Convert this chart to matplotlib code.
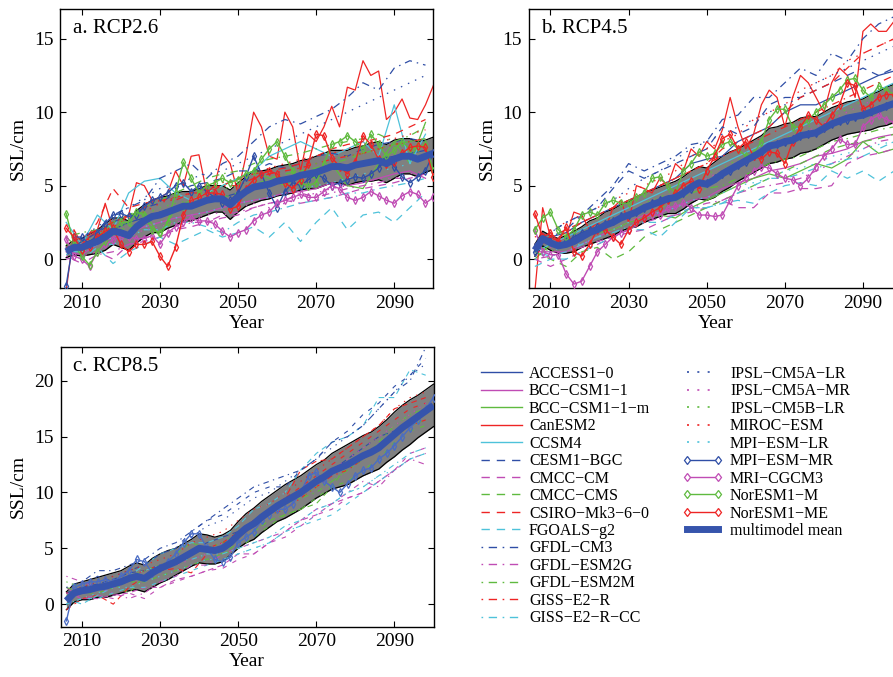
import numpy as np
import matplotlib
matplotlib.use('Agg')
import matplotlib.pyplot as plt
from matplotlib.lines import Line2D

plt.rcParams['font.family'] = ['Liberation Serif', 'DejaVu Serif']

# ---------------- data ----------------
years2 = np.arange(2006, 2101, 2)   # 48 points
years4 = np.arange(2006, 2099, 4)   # 24 points

model_names = ['ACCESS1\u22120', 'BCC\u2212CSM1\u22121', 'BCC\u2212CSM1\u22121\u2212m', 'CanESM2', 'CCSM4',
               'CESM1\u2212BGC', 'CMCC\u2212CM', 'CMCC\u2212CMS', 'CSIRO\u2212Mk3\u22126\u22120', 'FGOALS\u2212g2',
               'GFDL\u2212CM3', 'GFDL\u2212ESM2G', 'GFDL\u2212ESM2M', 'GISS\u2212E2\u2212R', 'GISS\u2212E2\u2212R\u2212CC',
               'IPSL\u2212CM5A\u2212LR', 'IPSL\u2212CM5A\u2212MR', 'IPSL\u2212CM5B\u2212LR', 'MIROC\u2212ESM', 'MPI\u2212ESM\u2212LR',
               'MPI\u2212ESM\u2212MR', 'MRI\u2212CGCM3', 'NorESM1\u2212M', 'NorESM1\u2212ME']
mean_label = 'multimodel mean'
panel_titles = ['a. RCP2.6', 'b. RCP4.5', 'c. RCP8.5']

# ---- RCP2.6 ----
a_mean = [0.5, 0.8, 0.8, 1.0, 1.2, 1.5, 1.9, 1.8,
          1.6, 2.2, 2.6, 2.9, 3.0, 3.2, 3.4, 3.6,
          3.6, 3.8, 4.0, 4.1, 4.1, 3.7, 4.2, 4.6,
          4.9, 5.0, 5.1, 5.3, 5.4, 5.5, 5.7, 5.8,
          5.9, 6.1, 6.3, 6.3, 6.2, 6.4, 6.5, 6.6,
          6.7, 6.5, 6.8, 7.0, 7.0, 6.8, 7.0, 7.2]
a_std = [0.4, 0.5, 0.6, 0.7, 0.8, 0.9, 0.9, 1.0,
         1.0, 1.1, 1.1, 1.1, 1.2, 1.1, 1.1, 1.0,
         1.0, 1.0, 1.0, 0.9, 0.9, 1.0, 1.0, 1.0,
         1.1, 1.0, 1.0, 1.0, 1.0, 1.0, 1.0, 1.0,
         1.1, 1.1, 1.1, 1.1, 1.2, 1.2, 1.2, 1.3,
         1.3, 1.3, 1.3, 1.2, 1.2, 1.2, 1.1, 1.1]
a_MPI_ESM_MR = [-1.8, 1.5, 1.5, 1.0, 1.8, 2.4, 3.0, 3.1,
                2.9, 3.0, 3.6, 4.0, 4.2, 4.5, 5.0, 5.2,
                4.6, 5.0, 4.6, 4.2, 3.8, 4.0, 4.5, 5.6,
                7.0, 5.8, 4.5, 3.5, 4.6, 5.2, 5.0, 5.4,
                5.8, 5.5, 5.0, 5.2, 5.4, 5.6, 5.5, 5.8,
                6.2, 6.8, 6.3, 5.6, 5.2, 5.6, 6.0, 7.2]
a_MRI_CGCM3 = [1.4, 0.2, 0.0, -0.5, 0.5, 1.0, 1.3, 1.5,
               1.5, 1.4, 1.4, 1.6, 1.0, 1.8, 2.2, 2.5,
               2.8, 2.6, 2.6, 2.4, 1.9, 1.5, 1.8, 2.0,
               2.6, 3.0, 3.2, 3.8, 4.0, 4.2, 4.4, 4.2,
               4.2, 4.6, 5.0, 4.8, 4.2, 4.0, 4.2, 4.6,
               4.3, 4.0, 3.8, 4.3, 4.6, 4.4, 3.8, 4.2]
a_NorESM1_M = [3.1, 1.0, 0.2, -0.4, 0.5, 1.2, 2.0, 2.5,
               2.5, 3.2, 3.0, 2.0, 1.8, 2.5, 4.5, 6.6,
               5.5, 4.5, 5.0, 5.2, 5.5, 5.2, 5.4, 5.8,
               6.0, 6.8, 7.5, 8.0, 7.0, 6.0, 5.2, 5.0,
               5.2, 6.5, 7.8, 8.0, 8.4, 8.0, 7.5, 8.5,
               7.8, 7.0, 7.4, 8.0, 7.5, 7.6, 7.8, 6.0]
a_NorESM1_ME = [2.1, 1.5, 0.6, 0.8, 1.5, 1.9, 2.1, 1.0,
                0.5, 1.0, 1.0, 1.2, 0.2, -0.5, 0.8, 3.0,
                4.0, 4.2, 4.5, 4.5, 4.4, 3.4, 3.6, 4.8,
                5.4, 5.8, 6.0, 5.8, 5.2, 4.8, 5.4, 6.5,
                8.5, 8.4, 6.9, 6.3, 5.8, 6.6, 8.4, 7.8,
                6.8, 6.5, 6.6, 7.2, 7.6, 7.7, 7.6, 5.6]
a_CanESM2 = [-2.2, 2.0, 1.0, 1.5, 2.0, 3.8, 2.0, 2.5,
             3.0, 5.2, 5.0, 4.0, 4.2, 4.5, 6.0, 5.0,
             7.0, 7.1, 4.5, 5.0, 7.2, 6.5, 4.5, 7.0,
             10.0, 9.0, 7.0, 6.8, 10.0, 9.0, 6.0, 8.5,
             8.0, 9.0, 10.4, 9.0, 11.7, 11.5, 13.5, 12.5,
             12.8, 9.5, 10.0, 10.9, 9.6, 9.5, 10.5, 11.8]
a_ACCESS1_0 = [0.8, 1.0, 1.5, 2.0, 2.5, 2.8, 3.2, 3.5, 3.8, 4.0, 4.2, 4.5, 4.8, 5.2, 5.5, 5.6, 6.0, 6.2, 6.4, 6.6, 6.8, 7.0, 7.2, 7.4]
a_BCC_CSM1_1 = [0.5, 0.3, 1.0, 1.5, 1.8, 2.2, 2.5, 2.8, 3.0, 3.2, 3.5, 3.8, 4.0, 4.2, 4.5, 4.6, 4.8, 5.2, 5.0, 5.2, 5.5, 5.8, 6.0, 5.5]
a_BCC_CSM1_1_m = [1.5, 0.5, 1.5, 2.5, 3.0, 3.2, 1.5, 3.5, 4.0, 4.5, 5.0, 5.5, 6.0, 5.5, 5.0, 5.8, 5.5, 6.5, 5.0, 4.8, 6.5, 8.0, 6.5, 9.3]
a_CCSM4 = [2.5, 1.0, 3.0, 2.0, 4.5, 5.3, 5.5, 4.5, 4.0, 4.5, 5.0, 5.5, 6.0, 7.0, 7.5, 8.0, 7.5, 7.0, 7.5, 8.0, 7.0, 10.5, 6.5, 8.5]
a_CESM1_BGC = [0.5, 1.2, 1.8, 2.5, 3.0, 3.5, 3.8, 4.5, 5.0, 5.2, 5.5, 6.0, 6.0, 6.5, 6.2, 6.5, 7.0, 7.2, 7.0, 7.5, 7.8, 8.0, 8.2, 8.0]
a_CMCC_CM = [0.0, 0.2, 0.5, 0.0, 1.0, 1.2, 1.5, 2.0, 2.2, 2.5, 2.8, 3.0, 3.5, 3.8, 4.0, 3.8, 4.0, 4.2, 4.5, 4.8, 5.0, 5.2, 5.5, 5.8]
a_CMCC_CMS = [1.0, 0.8, 1.2, 1.8, 2.2, 2.5, 3.0, 3.2, 3.5, 4.0, 4.2, 4.5, 5.0, 5.5, 5.8, 6.0, 6.2, 6.5, 6.8, 7.2, 7.5, 7.8, 8.0, 8.2]
a_CSIRO = [0.5, 1.0, 2.5, 4.8, 3.5, 3.8, 4.0, 4.2, 4.5, 4.8, 5.0, 5.5, 5.8, 6.0, 6.2, 6.5, 7.0, 7.5, 7.8, 8.0, 8.2, 8.5, 9.0, 9.5]
a_FGOALS_g2 = [0.5, 0.0, 0.8, -0.3, 0.5, 1.0, 1.5, 1.0, 1.5, 2.0, 1.5, 1.8, 2.2, 1.5, 2.5, 1.2, 2.5, 3.5, 2.0, 3.0, 3.2, 2.5, 3.5, 4.5]
a_GFDL_CM3 = [0.5, 1.5, 2.0, 3.0, 3.5, 4.0, 5.5, 6.0, 6.5, 5.5, 6.5, 7.0, 8.0, 9.0, 9.5, 9.2, 9.7, 10.2, 11.0, 12.0, 11.5, 13.0, 13.5, 13.2]
a_GFDL_ESM2G = [0.2, -0.3, 0.3, 0.5, 1.0, 1.5, 1.5, 2.0, 2.5, 2.5, 3.0, 3.2, 3.5, 3.8, 4.0, 4.5, 4.2, 4.5, 4.8, 5.0, 5.2, 5.5, 5.5, 5.8]
a_GFDL_ESM2M = [1.5, 1.8, 2.0, 2.5, 3.0, 3.5, 4.0, 4.5, 5.0, 5.5, 5.8, 6.0, 6.5, 6.8, 7.0, 7.2, 7.5, 7.8, 8.0, 8.2, 8.5, 8.0, 8.4, 9.0]
a_GISS_E2_R = [1.0, 1.5, 2.0, 2.5, 3.0, 3.5, 4.0, 4.0, 4.5, 4.5, 5.0, 5.0, 5.5, 5.8, 6.0, 6.2, 6.5, 6.8, 7.0, 7.2, 7.5, 7.8, 8.0, 8.2]
a_GISS_E2_R_CC = [0.5, 0.5, 1.0, 1.0, 1.5, 2.0, 2.0, 2.5, 2.5, 2.2, 1.8, 2.5, 3.0, 3.2, 3.5, 3.8, 4.0, 4.2, 4.5, 4.5, 4.8, 5.0, 5.2, 5.5]
a_IPSL_CM5A_LR = [1.0, 1.5, 2.2, 3.0, 3.5, 4.2, 4.8, 5.0, 5.5, 5.8, 6.0, 6.5, 7.0, 7.5, 8.0, 8.5, 9.0, 9.5, 10.0, 10.5, 11.0, 11.5, 12.0, 12.5]
a_IPSL_CM5A_MR = [0.5, 0.8, 1.0, 1.2, 1.5, 2.0, 2.2, 2.5, 2.8, 3.0, 3.2, 3.5, 3.8, 3.5, 3.8, 4.2, 4.5, 4.8, 5.0, 5.2, 5.5, 5.5, 5.8, 6.0]
a_IPSL_CM5B_LR = [1.0, 1.2, 1.5, 2.0, 2.5, 3.0, 3.5, 3.8, 4.0, 4.5, 4.8, 5.0, 5.2, 5.5, 5.8, 6.0, 6.5, 6.8, 7.0, 7.2, 7.5, 7.8, 8.0, 8.2]
a_MIROC_ESM = [0.8, 1.0, 1.8, 2.2, 2.8, 3.2, 3.8, 4.2, 4.5, 4.8, 5.2, 5.5, 5.8, 6.2, 6.5, 6.8, 7.0, 7.2, 7.5, 7.8, 8.0, 8.2, 8.5, 8.8]
a_MPI_ESM_LR = [0.3, 0.5, 1.0, 1.5, 2.0, 2.2, 2.5, 2.8, 3.0, 3.2, 3.5, 3.8, 4.0, 4.2, 4.5, 4.8, 5.0, 5.2, 5.5, 5.8, 6.0, 6.2, 6.5, 6.8]

# ---- RCP4.5 ----
b_mean = [0.6, 1.4, 1.1, 0.9, 1.0, 1.2, 1.5, 1.8,
          2.0, 2.3, 2.5, 2.8, 3.0, 3.2, 3.5, 3.7,
          3.9, 4.1, 4.2, 4.5, 4.9, 5.2, 5.1, 5.4,
          5.8, 6.1, 6.4, 6.7, 7.0, 7.3, 7.7, 7.8,
          8.0, 8.1, 8.4, 8.5, 8.6, 8.9, 9.2, 9.4,
          9.6, 9.7, 9.8, 10.0, 10.2, 10.4, 10.6, 10.8]
b_std = [0.4, 0.5, 0.5, 0.5, 0.6, 0.7, 0.7, 0.8,
         0.8, 0.9, 0.9, 0.9, 0.9, 1.0, 1.0, 1.0,
         1.0, 1.0, 1.1, 1.1, 1.1, 1.1, 1.1, 1.2,
         1.2, 1.2, 1.1, 1.1, 1.1, 1.1, 1.2, 1.2,
         1.2, 1.2, 1.2, 1.2, 1.1, 1.1, 1.1, 1.1,
         1.1, 1.1, 1.1, 1.2, 1.2, 1.3, 1.3, 1.3]
b_MPI_ESM_MR = [0.5, 1.5, 1.2, 1.0, 1.2, 1.5, 1.8, 2.0,
                2.2, 2.4, 2.6, 2.9, 3.0, 3.2, 3.5, 3.8,
                4.0, 4.1, 4.3, 4.5, 4.8, 5.1, 5.2, 5.5,
                5.8, 6.0, 6.4, 6.6, 7.0, 7.2, 7.6, 7.8,
                8.0, 8.2, 8.4, 8.5, 8.6, 8.9, 9.2, 9.4,
                9.5, 9.7, 9.9, 10.0, 10.2, 10.4, 10.5, 10.8]
b_MRI_CGCM3 = [2.0, 0.5, 0.3, 0.3, -1.0, -1.7, -1.5, -0.5,
               0.5, 1.0, 1.5, 1.8, 2.0, 2.5, 2.8, 3.0,
               3.0, 3.5, 3.6, 3.8, 3.5, 3.0, 3.0, 2.9,
               3.0, 4.0, 5.0, 5.5, 6.0, 6.3, 6.2, 5.8,
               5.5, 5.4, 5.0, 5.5, 6.3, 7.0, 7.5, 8.2,
               7.8, 7.8, 9.0, 9.5, 9.8, 9.5, 9.3, 9.5]
b_NorESM1_M = [2.0, 2.8, 3.2, 2.0, 1.5, 2.0, 3.0, 3.2,
               3.0, 3.8, 4.0, 3.8, 3.8, 4.2, 4.5, 5.5,
               5.6, 5.0, 4.5, 6.0, 6.5, 7.3, 7.0, 7.2,
               7.8, 8.0, 7.5, 7.0, 7.2, 8.0, 9.5, 10.2,
               10.2, 9.0, 9.0, 9.5, 10.0, 10.5, 11.0, 11.5,
               12.2, 12.3, 11.5, 11.0, 11.8, 11.5, 11.2, 11.5]
b_NorESM1_ME = [3.1, 1.5, 1.8, 1.2, 2.2, 0.5, 0.2, 1.0,
                2.0, 2.0, 1.5, 1.0, 2.0, 2.5, 2.8, 3.2,
                3.5, 4.0, 4.5, 5.0, 5.3, 4.8, 6.0, 7.0,
                8.2, 8.5, 7.5, 8.0, 7.0, 6.8, 7.3, 7.2,
                6.5, 8.0, 9.0, 9.8, 9.5, 9.0, 9.8, 10.5,
                12.0, 11.8, 10.2, 10.5, 11.0, 11.2, 11.2, 11.0]
b_CanESM2 = [-2.2, 3.5, 1.5, 1.2, 1.5, 3.2, 3.0, 2.0,
             2.5, 2.0, 3.5, 4.0, 2.5, 5.0, 4.8, 4.5,
             5.5, 5.0, 6.5, 6.0, 7.5, 7.0, 8.0, 7.5,
             8.8, 11.0, 9.0, 7.5, 8.5, 10.5, 11.5, 11.0,
             9.0, 11.0, 12.5, 12.0, 11.0, 10.0, 12.0, 13.0,
             12.5, 11.0, 15.5, 16.0, 15.5, 15.5, 16.2, 16.2]
b_ACCESS1_0 = [1.0, 1.5, 1.8, 2.5, 3.0, 3.5, 4.0, 4.5, 5.0, 5.5, 6.5, 6.8, 7.0, 8.0, 8.5, 9.0, 10.0, 10.5, 10.5, 11.0, 11.5, 12.0, 12.5, 12.8]
b_BCC_CSM1_1 = [0.5, 0.5, 0.5, 1.0, 1.5, 2.0, 2.5, 3.0, 3.2, 3.5, 4.0, 4.2, 4.8, 5.2, 5.5, 6.0, 6.2, 6.5, 7.0, 7.2, 7.5, 8.0, 8.3, 8.5]
b_BCC_CSM1_1_m = [0.0, 1.0, 1.0, 1.5, 1.8, 2.0, 2.5, 2.8, 3.0, 2.8, 3.5, 4.0, 4.5, 5.0, 5.5, 5.8, 5.5, 6.0, 6.5, 6.2, 6.8, 8.0, 7.2, 7.5]
b_CCSM4 = [0.5, 1.0, 1.5, 2.0, 2.5, 3.0, 3.5, 4.0, 4.5, 5.0, 5.5, 6.0, 6.5, 7.0, 7.5, 8.0, 8.5, 9.0, 9.5, 10.0, 10.5, 11.0, 11.5, 12.0]
b_CESM1_BGC = [0.5, 1.5, 2.0, 3.0, 3.5, 4.8, 6.0, 5.5, 6.0, 6.5, 7.0, 7.5, 9.0, 8.5, 9.0, 10.5, 11.0, 11.0, 11.5, 12.0, 12.5, 13.0, 12.5, 13.0]
b_CMCC_CM = [0.0, -0.5, 0.0, 0.5, 1.0, 1.5, 1.8, 2.0, 2.5, 3.0, 3.2, 3.5, 4.0, 3.5, 3.5, 4.5, 4.5, 4.8, 4.8, 5.0, 6.5, 7.0, 7.2, 7.5]
b_CMCC_CMS = [0.5, 0.0, -0.5, 0.5, 0.8, 0.0, 0.5, 1.5, 2.0, 2.5, 3.0, 3.5, 4.0, 4.5, 5.0, 5.5, 6.0, 6.5, 7.0, 7.5, 7.8, 8.0, 8.2, 8.5]
b_CSIRO = [1.0, 1.5, 2.0, 2.5, 3.0, 3.5, 4.0, 4.5, 5.0, 5.5, 6.0, 6.5, 7.5, 8.0, 8.5, 9.0, 10.0, 11.0, 11.5, 12.0, 13.0, 14.0, 14.5, 15.0]
b_FGOALS_g2 = [-0.5, 0.0, 0.0, 0.5, 1.0, 1.5, 2.0, 2.0, 1.5, 2.5, 3.5, 3.5, 3.8, 4.0, 3.8, 4.5, 5.0, 5.2, 5.0, 6.0, 5.5, 6.0, 5.3, 6.0]
b_GFDL_CM3 = [1.0, 1.8, 2.5, 3.0, 4.0, 5.0, 6.5, 6.0, 6.5, 7.0, 7.8, 8.0, 9.5, 9.8, 11.0, 11.0, 12.0, 13.0, 12.5, 14.0, 13.5, 15.0, 16.0, 16.5]
b_GFDL_ESM2G = [0.0, 0.2, 0.5, 0.8, 1.2, 1.5, 2.0, 2.5, 2.8, 3.0, 3.5, 3.8, 4.0, 4.5, 4.8, 5.0, 5.2, 5.5, 6.0, 6.5, 7.0, 7.5, 8.0, 8.2]
b_GFDL_ESM2M = [1.0, 0.5, 1.0, 1.5, 2.0, 2.5, 2.0, 2.8, 3.5, 4.0, 4.5, 4.8, 5.0, 5.5, 6.0, 6.5, 6.8, 7.0, 7.5, 8.0, 8.2, 8.5, 8.8, 9.0]
b_GISS_E2_R = [1.0, 1.2, 1.8, 2.5, 3.0, 3.5, 4.0, 4.5, 5.0, 5.5, 6.0, 6.5, 7.0, 7.5, 8.0, 8.5, 9.0, 9.5, 10.0, 10.5, 11.0, 11.5, 12.0, 12.5]
b_GISS_E2_R_CC = [0.5, 0.2, 0.5, 1.0, 1.5, 1.8, 2.2, 2.5, 2.5, 3.0, 3.5, 3.5, 3.8, 4.5, 5.0, 5.5, 5.5, 5.8, 6.2, 6.5, 6.8, 7.0, 7.5, 8.0]
b_IPSL_CM5A_LR = [1.0, 1.8, 2.5, 3.0, 3.5, 4.0, 4.8, 5.5, 6.0, 6.8, 7.5, 8.0, 8.5, 9.0, 9.5, 10.0, 10.5, 11.0, 12.0, 12.5, 13.0, 13.5, 14.0, 14.5]
b_IPSL_CM5A_MR = [0.5, 0.8, 1.0, 1.5, 2.0, 2.5, 3.0, 3.5, 4.0, 4.5, 5.0, 5.5, 6.0, 6.5, 7.0, 7.5, 8.0, 8.5, 9.0, 9.5, 10.0, 10.5, 11.0, 11.5]
b_IPSL_CM5B_LR = [0.5, 1.0, 1.2, 1.8, 2.2, 2.8, 3.2, 3.8, 4.2, 4.8, 5.2, 5.8, 6.2, 6.8, 7.2, 7.8, 8.2, 8.8, 9.2, 9.8, 10.2, 10.8, 11.2, 11.8]
b_MIROC_ESM = [1.5, 2.0, 2.5, 3.0, 3.5, 4.0, 4.5, 5.0, 5.5, 6.0, 7.0, 7.5, 8.0, 8.5, 9.5, 10.0, 10.5, 11.5, 12.0, 12.5, 13.5, 14.0, 14.5, 15.0]
b_MPI_ESM_LR = [0.0, 0.5, 1.0, 1.0, 1.5, 2.0, 2.5, 2.8, 3.2, 3.5, 4.0, 4.2, 4.5, 5.0, 5.2, 5.5, 6.0, 6.2, 6.5, 7.0, 7.2, 7.5, 7.8, 8.0]

# ---- RCP8.5 ----
c_mean = [0.3, 1.0, 1.2, 1.3, 1.5, 1.6, 1.8, 2.0,
          2.3, 2.5, 2.3, 2.8, 3.2, 3.5, 3.8, 4.2,
          4.6, 5.0, 4.9, 4.8, 5.0, 5.5, 6.2, 6.8,
          7.2, 7.8, 8.3, 8.8, 9.2, 9.6, 10.0, 10.5,
          11.0, 11.4, 11.9, 12.2, 12.5, 12.9, 13.3, 13.6,
          14.0, 14.6, 15.2, 15.8, 16.3, 16.8, 17.3, 17.8]
c_std = [0.8, 0.8, 0.8, 0.9, 0.9, 1.0, 1.0, 1.0,
         1.1, 1.2, 1.2, 1.3, 1.3, 1.3, 1.2, 1.2,
         1.2, 1.3, 1.3, 1.2, 1.2, 1.1, 1.2, 1.3,
         1.4, 1.4, 1.4, 1.4, 1.5, 1.5, 1.5, 1.5,
         1.5, 1.5, 1.6, 1.7, 1.8, 1.8, 1.8, 1.8,
         1.9, 1.9, 2.0, 2.0, 2.0, 1.9, 1.9, 1.9]
c_MPI_ESM_MR = [-1.5, 1.5, 1.8, 2.0, 2.0, 2.2, 2.0, 2.5,
                3.0, 4.0, 3.8, 2.8, 3.2, 3.8, 4.5, 5.5,
                6.3, 6.3, 5.0, 4.0, 3.8, 4.2, 5.5, 6.0,
                6.5, 7.5, 8.0, 8.5, 8.5, 9.0, 10.0, 11.5,
                11.8, 11.0, 10.5, 10.0, 10.8, 11.5, 12.0, 12.2,
                13.0, 13.5, 14.2, 15.0, 15.8, 16.5, 17.5, 18.5]
c_ACCESS1_0 = [0.5, 1.5, 1.8, 2.2, 2.8, 3.0, 3.5, 4.0, 4.8, 5.5, 6.0, 6.5, 7.5, 8.2, 9.0, 10.0, 11.0, 12.0, 13.0, 14.0, 15.0, 15.5, 16.5, 17.5]
c_BCC_CSM1_1 = [1.5, 0.5, 0.5, 0.8, 1.0, 1.5, 1.5, 2.2, 2.5, 3.0, 3.5, 4.5, 4.5, 5.5, 6.5, 7.5, 8.0, 9.0, 9.5, 10.0, 11.0, 12.0, 13.0, 13.5]
c_BCC_CSM1_1_m = [1.5, 1.0, 1.5, 1.8, 1.0, 2.5, 3.0, 4.5, 5.5, 5.0, 4.5, 5.5, 6.5, 7.5, 8.0, 8.5, 9.0, 10.5, 12.5, 13.5, 14.0, 15.0, 16.0, 16.5]
c_CanESM2 = [-0.5, 0.5, 0.8, 0.0, 1.5, 2.5, 3.0, 3.2, 2.8, 4.5, 5.0, 6.0, 7.0, 8.5, 9.5, 12.0, 12.8, 13.0, 14.0, 15.0, 16.0, 17.5, 18.0, 18.5]
c_CCSM4 = [0.5, 0.0, 0.8, 1.5, 2.5, 3.5, 4.5, 5.0, 5.5, 5.5, 6.0, 7.0, 8.5, 9.0, 10.0, 12.0, 13.5, 14.5, 15.0, 16.0, 18.5, 18.5, 21.0, 20.5]
c_CESM1_BGC = [1.0, 1.5, 2.5, 2.0, 3.0, 3.5, 4.5, 5.0, 6.5, 7.5, 8.0, 9.0, 10.0, 10.5, 10.5, 12.0, 13.0, 14.5, 15.5, 17.0, 18.0, 19.5, 20.5, 22.0]
c_CMCC_CM = [1.0, 0.5, 0.8, 0.5, 1.0, 0.5, 1.5, 2.0, 2.5, 3.0, 3.2, 4.0, 4.5, 5.5, 6.0, 7.0, 8.0, 8.5, 9.5, 10.0, 11.0, 12.0, 13.5, 14.0]
c_CMCC_CMS = [0.8, 1.0, 1.0, 1.5, 2.0, 2.0, 2.5, 3.0, 3.5, 4.0, 4.5, 5.0, 6.0, 7.0, 8.0, 8.5, 9.5, 10.5, 11.0, 12.0, 13.0, 14.5, 15.5, 16.0]
c_CSIRO = [0.5, 1.0, 1.5, 2.0, 2.5, 3.0, 3.5, 4.0, 4.5, 5.0, 5.5, 6.5, 7.5, 8.5, 9.5, 10.5, 11.5, 12.5, 13.5, 14.5, 15.5, 16.5, 17.5, 18.0]
c_FGOALS_g2 = [0.0, 0.5, 0.5, 1.0, 1.5, 1.5, 2.0, 2.5, 3.0, 3.5, 4.0, 4.5, 5.0, 5.5, 6.5, 7.0, 7.5, 8.0, 9.0, 10.0, 11.0, 12.0, 13.0, 13.5]
c_GFDL_CM3 = [1.5, 2.0, 3.0, 3.0, 3.5, 4.0, 5.0, 5.5, 6.5, 7.5, 8.5, 9.5, 10.5, 11.0, 11.5, 12.0, 13.0, 14.5, 15.0, 16.0, 17.5, 19.0, 20.0, 23.0]
c_GFDL_ESM2G = [2.5, 2.0, 1.5, 1.0, 0.5, 1.0, 2.0, 2.5, 3.5, 3.5, 4.5, 5.0, 5.5, 6.0, 6.5, 7.5, 8.5, 9.0, 10.0, 11.0, 10.5, 12.0, 13.0, 12.5]
c_GFDL_ESM2M = [2.0, 1.5, 1.5, 2.0, 2.5, 3.0, 3.5, 4.0, 4.5, 5.0, 5.5, 6.0, 7.0, 8.0, 9.0, 9.5, 10.0, 11.0, 12.0, 13.0, 14.5, 16.0, 17.0, 17.5]
c_GISS_E2_R = [0.5, 1.0, 1.5, 2.0, 2.5, 3.0, 3.5, 4.0, 4.5, 5.0, 5.5, 6.0, 7.0, 8.0, 8.5, 9.5, 10.5, 11.5, 12.0, 13.0, 14.0, 15.0, 16.0, 16.5]
c_GISS_E2_R_CC = [0.5, 1.0, 1.5, 2.0, 2.5, 3.0, 3.5, 4.0, 4.0, 4.5, 4.5, 5.0, 5.5, 6.0, 7.0, 7.5, 8.5, 9.0, 10.0, 10.5, 11.5, 12.5, 13.5, 14.0]
c_IPSL_CM5A_LR = [1.0, 1.5, 2.0, 2.5, 3.0, 3.5, 4.5, 5.0, 6.0, 7.0, 7.5, 8.5, 9.5, 10.0, 11.0, 12.0, 13.0, 14.0, 15.0, 16.0, 17.5, 19.0, 20.5, 21.5]
c_IPSL_CM5A_MR = [0.5, 1.0, 1.2, 1.5, 2.0, 2.5, 3.0, 3.5, 4.0, 4.5, 5.5, 6.0, 7.0, 8.0, 9.0, 10.0, 11.0, 12.0, 13.0, 14.0, 15.0, 16.0, 17.0, 18.0]
c_IPSL_CM5B_LR = [0.5, 1.0, 1.5, 2.0, 2.5, 3.0, 3.5, 4.0, 4.5, 5.0, 5.5, 6.5, 7.0, 8.0, 8.5, 9.5, 10.5, 11.0, 12.0, 13.0, 14.0, 15.0, 16.0, 16.5]
c_MIROC_ESM = [1.0, 1.5, 2.0, 2.5, 3.0, 3.5, 4.0, 4.5, 5.5, 6.0, 6.5, 7.5, 8.5, 9.0, 10.0, 11.0, 12.0, 13.0, 14.0, 15.0, 16.0, 17.5, 18.5, 19.0]
c_MPI_ESM_LR = [0.0, 0.5, 1.0, 1.5, 1.5, 2.0, 2.5, 3.0, 3.5, 4.0, 4.0, 4.5, 5.0, 5.5, 6.5, 7.0, 8.0, 9.0, 10.0, 10.5, 11.5, 12.0, 13.0, 13.5]

# ---------------- styles ----------------
BLUE, MAG, GRN, RED, CYN = '#2f4ea6', '#c04cb4', '#5fba3f', '#ee2424', '#4ec2da'
MEANC = '#3654ac'
colors5 = [BLUE, MAG, GRN, RED, CYN]
dia_colors = [BLUE, MAG, GRN, RED]
DASH = (0, (6, 5))
DASHDOT = (0, (1.2, 4, 6, 4))
DOT = (0, (1.2, 5))
group_styles = ['-', DASH, DASHDOT, DOT]
# panel c: the model curves appear broken into short pieces
group_styles_c = [(0, (5, 4)), (0, (4, 6)), (0, (1.2, 4, 5, 4)), (0, (1.2, 5))]

panels = [
    dict(mean=a_mean, std=a_std,
         others=[a_ACCESS1_0, a_BCC_CSM1_1, a_BCC_CSM1_1_m, a_CanESM2, a_CCSM4,
                 a_CESM1_BGC, a_CMCC_CM, a_CMCC_CMS, a_CSIRO, a_FGOALS_g2,
                 a_GFDL_CM3, a_GFDL_ESM2G, a_GFDL_ESM2M, a_GISS_E2_R, a_GISS_E2_R_CC,
                 a_IPSL_CM5A_LR, a_IPSL_CM5A_MR, a_IPSL_CM5B_LR, a_MIROC_ESM, a_MPI_ESM_LR],
         dia=[a_MPI_ESM_MR, a_MRI_CGCM3, a_NorESM1_M, a_NorESM1_ME],
         ylim=(-2, 17), yticks=[0, 5, 10, 15]),
    dict(mean=b_mean, std=b_std,
         others=[b_ACCESS1_0, b_BCC_CSM1_1, b_BCC_CSM1_1_m, b_CanESM2, b_CCSM4,
                 b_CESM1_BGC, b_CMCC_CM, b_CMCC_CMS, b_CSIRO, b_FGOALS_g2,
                 b_GFDL_CM3, b_GFDL_ESM2G, b_GFDL_ESM2M, b_GISS_E2_R, b_GISS_E2_R_CC,
                 b_IPSL_CM5A_LR, b_IPSL_CM5A_MR, b_IPSL_CM5B_LR, b_MIROC_ESM, b_MPI_ESM_LR],
         dia=[b_MPI_ESM_MR, b_MRI_CGCM3, b_NorESM1_M, b_NorESM1_ME],
         ylim=(-2, 17), yticks=[0, 5, 10, 15]),
    dict(mean=c_mean, std=c_std,
         others=[c_ACCESS1_0, c_BCC_CSM1_1, c_BCC_CSM1_1_m, c_CanESM2, c_CCSM4,
                 c_CESM1_BGC, c_CMCC_CM, c_CMCC_CMS, c_CSIRO, c_FGOALS_g2,
                 c_GFDL_CM3, c_GFDL_ESM2G, c_GFDL_ESM2M, c_GISS_E2_R, c_GISS_E2_R_CC,
                 c_IPSL_CM5A_LR, c_IPSL_CM5A_MR, c_IPSL_CM5B_LR, c_MIROC_ESM, c_MPI_ESM_LR],
         dia=[c_MPI_ESM_MR],
         ylim=(-2, 23), yticks=[0, 5, 10, 15, 20]),
]

W, H = 893, 677
fig = plt.figure(figsize=(W / 100, H / 100), dpi=100)
rects = [(60.3, 9.3), (529.0, 9.3), (60.5, 347.3)]
AW, AH = 373.0, 279.2

for k, (p, (x0, y0)) in enumerate(zip(panels, rects)):
    ax = fig.add_axes([x0 / W, 1 - (y0 + AH) / H, AW / W, AH / H])
    m = np.array(p['mean'])
    s = np.array(p['std'])
    n = min(len(years2), len(m), len(s))
    xm = years2[:n]
    ax.fill_between(xm, m[:n] - s[:n], m[:n] + s[:n], color='#808080', lw=0, zorder=1)
    ax.plot(xm, m[:n] - s[:n], color='black', lw=0.9, zorder=1.5)
    ax.plot(xm, m[:n] + s[:n], color='black', lw=0.9, zorder=1.5)
    gstyles = group_styles if k < 2 else group_styles_c
    lw_o = 0.9 if k < 2 else 0.8
    for i, y in enumerate(p['others']):
        xs = years2 if (i == 3 and k < 2) else years4
        nn = min(len(xs), len(y))
        ax.plot(xs[:nn], y[:nn], color=colors5[i % 5], ls=gstyles[i // 5], lw=lw_o, zorder=2)
    for j, y in enumerate(p['dia']):
        nn = min(len(years2), len(y))
        c = dia_colors[j] if k < 2 else '#4a6cc4'
        ax.plot(years2[:nn], y[:nn], color=c, lw=1.0, marker='d', ms=4.2,
                mfc='none', mew=0.9, zorder=3)
    ax.plot(xm, m[:n], color=MEANC, lw=5, zorder=4, solid_capstyle='butt')
    ax.set_xlim(2004.5, 2100)
    ax.set_ylim(*p['ylim'])
    ax.set_xticks([2010, 2030, 2050, 2070, 2090])
    ax.set_yticks(p['yticks'])
    ax.tick_params(direction='in', top=True, right=True, labelsize=14, length=4, width=0.8, pad=5)
    for sp in ax.spines.values():
        sp.set_linewidth(1.0)
    ax.set_xlabel('Year', fontsize=14, labelpad=2)
    ax.set_ylabel('SSL/cm', fontsize=14, labelpad=5)
    ax.text(0.033, 0.915, panel_titles[k], transform=ax.transAxes, fontsize=15, va='baseline', zorder=10)

# ---------------- legend ----------------
h1 = [Line2D([], [], color=colors5[i % 5], ls=group_styles[i // 5], lw=1.0) for i in range(15)]
h2 = [Line2D([], [], color=colors5[i % 5], ls=DOT, lw=1.2) for i in range(15, 20)]
for j in range(4):
    h2.append(Line2D([], [], color=dia_colors[j], lw=1.0, marker='d', ms=4.5, mfc='white', mew=0.9))
h2.append(Line2D([], [], color=MEANC, lw=5))

common = dict(frameon=False, fontsize=11.5, handlelength=2.57, handletextpad=0.44,
              labelspacing=0.09, borderaxespad=0, borderpad=0, loc='upper left')
fig.legend(h1, model_names[:15], bbox_to_anchor=(481 / W, 1 - 366 / H), **common)
fig.legend(h2, model_names[15:] + [mean_label], bbox_to_anchor=(682 / W, 1 - 366 / H), numpoints=2, **common)

fig.savefig('out.png', dpi=100)
